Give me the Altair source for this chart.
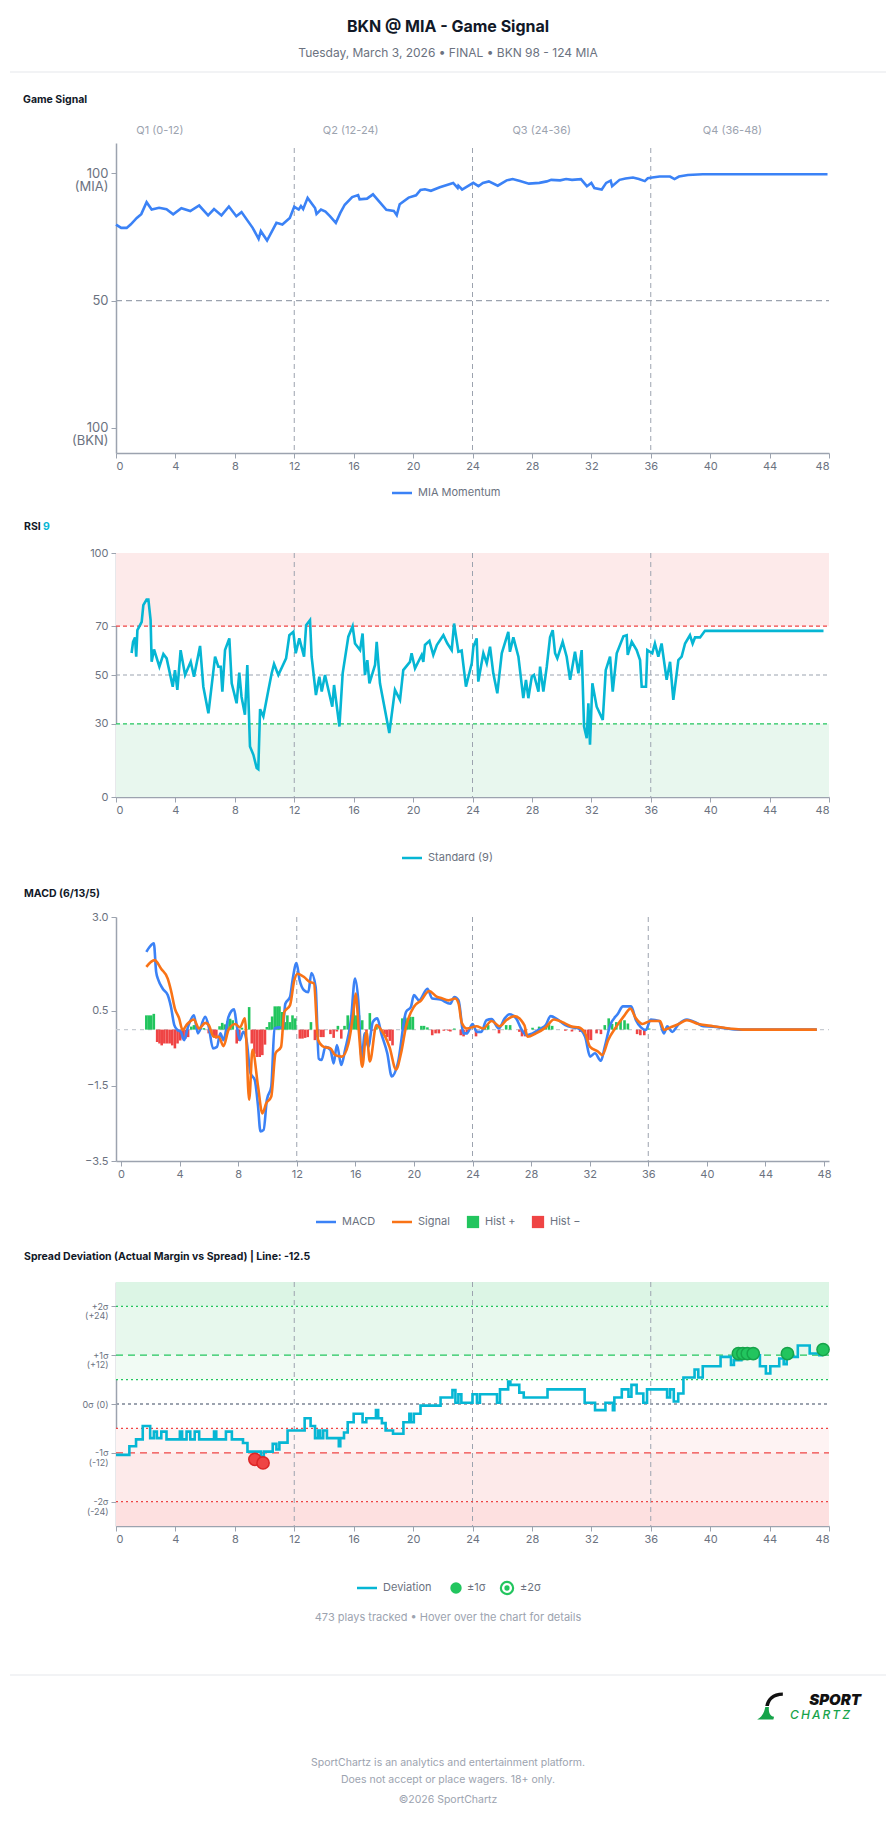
import altair as alt
import pandas as pd

# ---------------- data ----------------
# Game signal (0 = BKN control, 100 = MIA control), minute of game
gs_t = [0, 0.35, 0.72, 1.0, 1.4, 1.7, 2.06, 2.4, 2.9, 3.4, 3.85, 4.4, 5.0, 5.6, 6.2, 6.6, 7.1, 7.6,
        8.1, 8.45, 9.2, 9.6, 9.75, 10.17, 10.8, 11.2, 11.7, 12.0, 12.3, 12.45, 12.6, 12.9, 13.4, 13.5,
        13.8, 14.1, 14.4, 14.8, 15.1, 15.4, 15.9, 16.3, 16.4, 16.9, 17.3, 18.2, 18.7, 18.9, 19.1, 19.7,
        20.2, 20.5, 20.8, 21.2, 21.8, 22.7, 23.0, 23.05, 23.3, 24.05, 24.4, 24.7, 25.1, 25.7, 26.3,
        26.7, 27.2, 27.8, 28.5, 29.0, 29.3, 29.9, 30.3, 30.7, 31.3, 31.7, 32.0, 32.2, 32.7, 33.0, 33.3,
        33.4, 33.9, 34.3, 34.8, 35.2, 35.6, 35.8, 36.1, 36.6, 37.3, 37.6, 37.9, 38.5, 39.5, 47.9]
gs_v = [79.9, 78.6, 78.6, 80.0, 82.5, 84.0, 88.7, 85.8, 86.5, 85.9, 83.9, 86.3, 85.2, 87.4, 83.5, 86.0,
        83.5, 87.0, 83.2, 84.8, 78.6, 74.3, 77.3, 73.6, 80.6, 79.9, 82.5, 86.9, 85.8, 87.2, 86.0, 90.4,
        86.4, 84.1, 85.8, 85.0, 83.2, 80.6, 84.5, 87.7, 90.7, 91.5, 89.8, 90.1, 91.8, 85.7, 85.3, 83.6,
        87.9, 90.5, 91.4, 93.5, 93.8, 93.2, 94.6, 96.3, 94.3, 95.2, 93.7, 96.3, 95.0, 96.3, 96.9, 95.2,
        97.3, 97.8, 97.0, 96.0, 96.3, 96.9, 97.5, 97.3, 97.8, 97.5, 97.8, 95.0, 96.3, 94.3, 93.7, 96.3,
        97.2, 95.0, 97.5, 98.0, 98.4, 97.8, 97.0, 98.1, 98.4, 98.8, 98.8, 97.8, 98.8, 99.4, 99.7, 99.7]

# RSI (9)
rsi_t = [1.05, 1.15, 1.28, 1.36, 1.44, 1.73, 1.84, 2.06, 2.18, 2.33, 2.4, 2.56, 2.92, 3.19, 3.41, 3.82,
         3.97, 4.13, 4.35, 4.65, 5.03, 5.25, 5.66, 5.88, 6.22, 6.67, 6.89, 7.05, 7.16, 7.34, 7.63, 7.79,
         8.12, 8.3, 8.45, 8.68, 8.84, 9.02, 9.25, 9.47, 9.58, 9.7, 9.92, 10.26, 10.48, 10.64, 10.93,
         11.45, 11.67, 11.94, 12.1, 12.34, 12.66, 12.8, 13.06, 13.17, 13.46, 13.69, 13.85, 14.07, 14.56,
         14.68, 15.04, 15.26, 15.64, 15.93, 16.09, 16.43, 16.6, 16.76, 16.92, 17.06, 17.44, 17.55, 17.77,
         18.4, 18.78, 19.12, 19.34, 19.79, 19.9, 20.13, 20.58, 20.69, 20.8, 21.1, 21.36, 21.6, 22.04,
         22.3, 22.6, 22.76, 23.05, 23.27, 23.56, 23.95, 24.06, 24.28, 24.39, 24.73, 24.96, 25.18, 25.4,
         25.67, 25.97, 26.41, 26.52, 26.75, 27.09, 27.42, 27.6, 27.76, 27.99, 28.14, 28.44, 28.55, 28.77,
         29.0, 29.22, 29.4, 29.56, 29.71, 30.07, 30.34, 30.57, 30.9, 31.13, 31.35, 31.51, 31.69, 31.8,
         31.91, 32.07, 32.36, 32.77, 32.97, 33.26, 33.44, 33.71, 34.16, 34.38, 34.45, 34.72, 35.05,
         35.28, 35.39, 35.68, 35.77, 36.1, 36.28, 36.51, 36.73, 37.07, 37.3, 37.52, 37.86, 38.08, 38.31,
         38.64, 38.82, 38.98, 39.32, 39.65, 47.63]
rsi_v = [59.0, 63.6, 65.4, 57.5, 68.4, 71.8, 78.6, 80.9, 80.9, 72.5, 55.4, 60.5, 53.4, 58.6, 56.8, 45.2,
         52.0, 43.9, 60.2, 50.0, 55.4, 49.3, 61.9, 45.2, 34.3, 57.5, 53.4, 53.4, 43.2, 60.2, 65.0, 46.6,
         38.4, 51.0, 41.1, 33.7, 54.1, 20.7, 17.3, 11.9, 11.4, 36.0, 33.0, 43.9, 50.7, 54.5, 50.0, 56.8,
         66.3, 67.7, 58.9, 65.0, 57.5, 70.4, 72.5, 57.5, 41.8, 49.3, 43.2, 50.0, 37.0, 45.9, 28.9, 50.7,
         65.7, 70.0, 62.9, 60.2, 67.0, 50.0, 56.1, 46.6, 54.1, 63.6, 46.6, 26.2, 43.9, 39.8, 52.0, 55.4,
         58.9, 52.7, 58.2, 55.4, 62.3, 64.0, 58.2, 62.3, 66.3, 63.0, 60.2, 71.1, 59.5, 60.0, 45.2, 54.8,
         61.6, 65.0, 47.3, 58.9, 54.8, 61.6, 50.7, 42.5, 58.9, 67.7, 59.5, 65.4, 57.5, 40.5, 48.0, 40.5,
         49.3, 50.0, 43.2, 53.4, 43.2, 53.4, 65.4, 68.4, 58.9, 56.8, 63.6, 57.5, 48.0, 59.5, 50.7, 60.2,
         28.9, 24.1, 38.4, 21.4, 46.6, 37.0, 31.6, 52.0, 57.5, 43.2, 58.9, 65.9, 66.3, 58.2, 63.6, 60.2,
         56.1, 45.2, 45.2, 60.2, 58.9, 62.9, 57.5, 62.9, 48.0, 55.4, 39.8, 56.1, 57.5, 62.9, 66.3, 62.9,
         65.4, 65.4, 68.1, 68.1]

# MACD (6/13/5) line
macd_t = [1.73, 1.95, 2.24, 2.4, 2.56, 2.85, 3.19, 3.41, 3.64, 3.86, 4.08, 4.31, 4.58, 4.98, 5.25, 5.75,
          5.99, 6.28, 6.55, 6.78, 7.0, 7.34, 7.72, 7.9, 8.12, 8.35, 8.57, 8.84, 9.13, 9.36, 9.52, 9.74,
          9.96, 10.26, 10.48, 10.82, 11.04, 11.22, 11.54, 11.71, 11.98, 12.2, 12.5, 12.79, 13.0, 13.29,
          13.5, 13.69, 13.96, 14.3, 14.52, 14.74, 15.04, 15.3, 15.7, 15.98, 16.2, 16.43, 16.65, 16.88,
          17.2, 17.5, 17.77, 18.18, 18.49, 18.9, 19.46, 19.8, 20.0, 20.35, 20.92, 21.25, 21.81, 22.49,
          22.76, 23.05, 23.39, 23.61, 24.01, 24.28, 24.6, 24.95, 25.3, 25.8, 26.2, 26.53, 26.98, 27.31,
          27.69, 28.1, 28.66, 29.0, 29.33, 29.78, 30.34, 30.79, 31.24, 31.69, 32.03, 32.36, 32.77, 33.03,
          33.37, 33.94, 34.27, 34.83, 35.16, 35.5, 35.84, 36.17, 36.74, 37.07, 37.3, 37.63, 38.08, 38.64,
          39.3, 39.76, 40.43, 41.33, 42.24, 47.51]
macd_v = [2.07, 2.2, 2.3, 1.54, 1.31, 1.09, 0.92, 0.61, 0.12, -0.01, -0.06, -0.28, 0.08, 0.38, -0.1,
          0.34, 0.08, -0.5, -0.46, -0.1, -0.28, 0.34, 0.54, 0.12, -0.28, -0.06, -0.28, -1.16, -1.34, -2.05,
          -2.71, -2.67, -1.87, -1.52, 0.03, 0.06, 0.03, 0.69, 0.87, 1.31, 1.77, 1.31, 1.05, 1.0, 1.51, 1.14,
          -0.77, -0.81, -0.46, -0.54, -0.9, -0.41, -0.94, -0.54, 0.25, 1.36, 0.78, -0.77, -0.1, -0.46,
          0.21, 0.3, -0.1, -0.63, -1.25, -0.9, 0.47, 0.61, 0.92, 0.78, 1.09, 0.83, 0.8, 0.69, 0.87, 0.78,
          -0.1, -0.1, 0.15, -0.06, -0.06, 0.25, 0.28, 0.03, 0.3, 0.41, 0.3, 0.03, -0.15, -0.1, 0.03, 0.12,
          0.36, 0.28, 0.12, 0.06, 0.03, -0.19, -0.72, -0.63, -0.83, -0.46, 0.08, 0.43, 0.62, 0.62, 0.25,
          0.06, -0.01, 0.27, 0.23, -0.1, 0.09, -0.06, 0.15, 0.27, 0.18, 0.09, 0.08, 0.03, 0.0, 0.0]

# MACD signal line
sig_t = [1.73, 2.29, 2.74, 3.19, 3.41, 3.68, 3.97, 4.2, 4.53, 4.98, 5.32, 5.77, 5.99, 6.33, 6.67, 7.0,
         7.34, 7.79, 8.12, 8.46, 8.75, 8.98, 9.36, 9.65, 9.92, 10.26, 10.55, 10.93, 11.15, 11.54, 11.83,
         12.05, 12.5, 12.88, 13.17, 13.46, 13.85, 14.3, 14.63, 15.08, 15.53, 15.87, 16.02, 16.25, 16.47,
         16.76, 16.99, 17.44, 17.77, 18.33, 18.78, 19.12, 19.46, 20.0, 20.5, 21.03, 21.6, 21.81, 22.37,
         22.82, 23.05, 23.27, 23.61, 24.28, 24.73, 25.3, 25.86, 26.3, 26.86, 27.54, 27.76, 28.33, 29.0,
         29.56, 30.34, 30.79, 31.24, 31.69, 32.03, 32.59, 32.86, 33.26, 33.82, 34.38, 34.78, 35.16,
         35.61, 36.17, 36.8, 37.07, 37.52, 38.08, 38.64, 39.42, 40.43, 41.55, 42.46, 47.51]
sig_v = [1.67, 1.85, 1.62, 1.36, 1.05, 0.56, 0.3, -0.01, 0.15, 0.27, 0.03, 0.18, 0.12, -0.19, -0.19,
         -0.44, -0.01, 0.15, 0.06, 0.3, -1.87, -0.54, -1.52, -2.23, -1.96, -1.78, -0.63, -0.46, 0.47, 0.65,
         1.31, 1.49, 1.4, 1.27, 1.23, -0.28, -0.46, -0.5, -0.68, -0.72, -0.37, 0.47, 0.96, -0.1, -0.99,
         -0.06, -0.85, 0.12, -0.01, -0.46, -1.06, -0.63, 0.08, 0.61, 0.78, 1.03, 0.87, 0.85, 0.78, 0.83,
         0.69, 0.18, 0.03, 0.09, 0.03, 0.23, 0.09, 0.25, 0.36, 0.12, -0.19, -0.1, 0.06, 0.27, 0.16, 0.08,
         0.06, -0.1, -0.46, -0.59, -0.68, -0.28, 0.08, 0.38, 0.56, 0.3, 0.15, 0.23, 0.23, -0.01, 0.06,
         0.15, 0.25, 0.15, 0.09, 0.03, 0.0, 0.0]

# MACD histogram
hist_t = [1.73, 1.89, 2.06, 2.24, 2.47, 2.63, 2.78, 2.96, 3.14, 3.32, 3.5, 3.68, 3.86, 4.04, 4.22, 4.4,
          4.58, 4.8, 4.98, 5.16, 5.43, 5.66, 5.99, 6.15, 6.33, 6.51, 6.73, 6.91, 7.09, 7.27, 7.45, 7.63,
          7.9, 8.08, 8.26, 8.75, 8.93, 9.11, 9.29, 9.47, 9.65, 9.83, 9.96, 10.14, 10.32, 10.5, 10.68,
          10.82, 11.0, 11.18, 11.36, 11.54, 11.71, 11.89, 12.21, 12.39, 12.57, 12.75, 12.97, 13.24, 13.42,
          13.64, 13.82, 14.3, 14.52, 14.74, 14.81, 15.04, 15.26, 15.48, 15.71, 15.89, 16.07, 16.25, 16.47,
          16.76, 16.99, 17.15, 17.44, 17.77, 18.0, 18.18, 18.36, 18.54, 19.21, 19.39, 19.57, 19.75, 19.93,
          20.51, 20.69, 20.92, 21.25, 21.48, 21.7, 22.04, 22.37, 22.49, 22.76, 23.2, 23.39, 23.61, 24.24,
          24.84, 25.07, 25.81, 26.3, 26.57, 27.2, 27.38, 27.6, 28.1, 28.55, 29.0, 29.22, 29.44, 30.34,
          30.79, 31.35, 31.69, 31.91, 32.09, 32.47, 32.77, 33.03, 33.3, 33.53, 33.82, 34.11, 34.38, 34.61,
          35.24, 35.46, 35.73, 36.06]
hist_v = [0.38, 0.38, 0.38, 0.42, -0.33, -0.37, -0.42, -0.37, -0.37, -0.37, -0.42, -0.5, -0.37, -0.29,
          -0.24, -0.24, -0.2, 0.08, 0.12, 0.1, 0.06, 0.04, -0.1, -0.15, -0.2, -0.24, 0.09, 0.18, 0.14, 0.22,
          0.29, 0.25, -0.37, -0.3, 0.05, 0.6, -0.37, -0.64, -0.73, -0.73, -0.68, -0.4, 0.07, 0.2, 0.35,
          0.62, 0.62, 0.62, 0.47, 0.2, 0.38, 0.2, 0.38, 0.3, -0.24, -0.24, -0.22, -0.2, 0.2, -0.28, -0.2,
          -0.2, -0.2, -0.12, -0.22, -0.05, 0.1, -0.24, 0.1, 0.38, 0.38, 0.69, 0.38, 0.38, 0.25, -0.06, 0.44,
          -0.03, 0.1, -0.06, -0.12, -0.2, -0.3, -0.42, 0.3, 0.34, 0.3, 0.34, 0.34, 0.1, 0.1, 0.06, -0.15,
          -0.1, -0.1, -0.03, -0.03, -0.05, 0.03, -0.15, -0.18, -0.12, -0.18, 0.1, 0.12, -0.1, 0.12, 0.12,
          -0.06, -0.18, -0.18, 0.05, 0.08, 0.1, 0.14, 0.1, -0.03, -0.05, -0.06, -0.1, -0.28, -0.28, -0.1,
          -0.12, 0.12, 0.3, 0.15, 0.2, 0.25, 0.25, 0.16, -0.12, -0.15, -0.15, 0.03]

# Spread deviation (actual margin minus spread), stepped per play
dev_t = [0, 0.9, 1.35, 1.8, 2.3, 2.55, 2.75, 3.05, 3.4, 4.3, 4.45, 4.75, 5.0, 5.3, 5.6, 6.6, 6.75, 7.4,
         7.8, 8.55, 8.85, 9.75, 9.95, 10.55, 10.8, 11.0, 11.55, 12.7, 13.1, 13.4, 13.6, 13.75, 13.95,
         14.2, 15.0, 15.1, 15.35, 15.6, 16.0, 16.6, 16.85, 17.5, 17.65, 17.9, 18.15, 18.65, 19.35, 19.75,
         19.85, 20.05, 20.5, 21.85, 22.65, 22.85, 23.05, 23.25, 24.0, 24.3, 24.5, 25.65, 25.85, 26.4,
         26.55, 27.15, 27.45, 29.05, 31.55, 32.25, 32.95, 33.45, 33.55, 34.05, 34.5, 34.7, 35.05, 35.5,
         35.75, 37.1, 37.3, 37.55, 37.85, 38.2, 38.95, 39.2, 39.5, 40.7, 41.4, 41.6, 42.1, 42.6, 42.9,
         43.35, 43.75, 44.05, 44.65, 44.95, 45.15, 45.9, 46.7, 47.35, 47.5, 47.6]
dev_v = [-12.5, -10.4, -8.7, -5.4, -8.4, -6.8, -8.4, -6.8, -8.7, -6.8, -8.7, -6.8, -8.7, -6.8, -8.7,
         -6.8, -8.7, -6.8, -8.7, -9.6, -11.7, -12.9, -11.7, -9.8, -11.2, -9.5, -6.5, -3.5, -5.4, -8.4,
         -6.5, -8.4, -6.5, -8.4, -10.4, -8.4, -7.0, -4.5, -2.4, -4.5, -3.5, -1.5, -3.5, -4.7, -6.5, -7.3,
         -4.5, -2.4, -4.5, -2.4, -0.4, 1.6, 3.4, 0.3, 2.4, 0.3, 2.4, 0.3, 2.4, 0.3, 3.6, 5.5, 4.7, 2.8,
         1.6, 3.6, 0.3, -1.5, 0.3, -1.5, 1.6, 3.6, 1.8, 4.7, 2.6, 0.3, 3.6, 1.6, 3.6, 0.6, 2.6, 6.5, 8.5,
         6.5, 9.3, 11.6, 9.6, 10.8, 12.0, 11.3, 12.0, 9.3, 7.5, 9.3, 11.2, 9.8, 11.6, 14.4, 12.4, 12.0,
         13.4, 13.4]

# Plays beyond one standard deviation
hit_t = [9.35, 9.9, 41.9, 42.2, 42.5, 42.9, 45.2, 47.6]
hit_v = [-13.6, -14.5, 12.4, 12.4, 12.4, 12.4, 12.4, 13.4]

quarter_lines = [12, 24, 36]
quarter_names = ["Q1 (0-12)", "Q2 (12-24)", "Q3 (24-36)", "Q4 (36-48)"]
quarter_label_t = [2.96, 15.8, 28.66, 41.5]

# ---------------- style ----------------
FONT = "Inter"
INK = "#111827"
MUTED = "#6b7280"
LIGHT = "#9ca3af"
AXIS = "#9ca3af"
BLUE = "#3b82f6"
CYAN = "#06b6d4"
ORANGE = "#f97316"
GREEN = "#22c55e"
RED = "#ef4444"
W = 713          # plot width
LEFT = 116       # plot left edge within the page
PAGE_W = 896

X_SCALE = alt.Scale(domain=[0, 48], nice=False, zero=False)
X_AXIS = alt.Axis(values=list(range(0, 49, 4)), title=None, grid=False, labelFontSize=11,
                  labelColor=MUTED, tickSize=5, labelPadding=2, domainColor=AXIS, tickColor=AXIS,
                  domainWidth=1.5, labelFont=FONT)


def X(field):
    return alt.X(field, type="quantitative", scale=X_SCALE, axis=X_AXIS)


def one():
    return pd.DataFrame({"k": [0]})


def spacer(top, bottom):
    # invisible box fixing the outer extent of a panel
    return alt.Chart(one()).mark_rect(opacity=0).encode(
        x=alt.value(-LEFT), x2=alt.value(PAGE_W - LEFT), y=alt.value(-top), y2=alt.value(bottom))


def text(s, x, y, size=11, color=INK, weight="normal", align="left", style="normal"):
    return alt.Chart(pd.DataFrame({"s": [s]})).mark_text(
        align=align, baseline="middle", fontSize=size, color=color, fontWeight=weight,
        font=FONT, fontStyle=style).encode(x=alt.value(x), y=alt.value(y), text="s:N")


def hline(x1, x2, y, color, width=2.5, dash=None):
    kw = {"strokeDash": dash} if dash else {}
    return alt.Chart(one()).mark_rule(color=color, strokeWidth=width, **kw).encode(
        x=alt.value(x1), x2=alt.value(x2), y=alt.value(y))


def legend_line(x1, y, color, label):
    return hline(x1, x1 + 20, y, color) + text(label, x1 + 26, y, 11, MUTED)


def legend_square(cx, y, color, label):
    sq = alt.Chart(one()).mark_point(shape="square", filled=True, color=color, size=150, opacity=1).encode(
        x=alt.value(cx), y=alt.value(y))
    return sq + text(label, cx + 12, y, 11, MUTED)


def quarter_rules(Y, y_top=0, height=244):
    df = pd.DataFrame({"q": quarter_lines})
    return alt.Chart(df).mark_rule(color=LIGHT, strokeWidth=1, strokeDash=[5, 4]).encode(
        x=X("q"), y=alt.value(y_top), y2=alt.value(height))


def level(values, color, dash, Y, width=1.2):
    df = pd.DataFrame({"v": values})
    return alt.Chart(df).mark_rule(color=color, strokeWidth=width, strokeDash=dash).encode(
        y=alt.Y("v:Q", scale=Y["scale"], axis=Y["axis"]), x=alt.value(0), x2=alt.value(W))


def band(lo, hi, color, Y, opacity=1.0):
    df = pd.DataFrame({"lo": [lo], "hi": [hi]})
    return alt.Chart(df).mark_rect(color=color, opacity=opacity).encode(
        y=alt.Y("lo:Q", scale=Y["scale"], axis=Y["axis"]), y2="hi:Q",
        x=alt.value(0), x2=alt.value(W))


def yaxis(values, **kw):
    base = dict(values=values, title=None, grid=False, tickSize=5, labelPadding=3,
                labelColor=MUTED, domainColor=AXIS, tickColor=AXIS, domainWidth=1.5, labelFont=FONT)
    base.update(kw)
    return alt.Axis(**base)


# ---------------- panel 1: game signal ----------------
H1 = 310
Y1 = {"scale": alt.Scale(domain=[-10, 112], nice=False, zero=False),
      "axis": yaxis([0, 50, 100], labelFontSize=13, labelLineHeight=13,
                    labelExpr="datum.value == 100 ? ['100', '(MIA)'] : datum.value == 0 ? ['100', '(BKN)'] : '50'")}

gs = pd.DataFrame({"t": gs_t, "v": gs_v})
qlab = pd.DataFrame({"t": quarter_label_t, "s": quarter_names})

p1 = alt.layer(
    spacer(143, 362),
    text("BKN @ MIA - Game Signal", 332, -116, 16, INK, "bold", "center"),
    text("Tuesday, March 3, 2026 \u2022 FINAL \u2022 BKN 98 - 124 MIA", 332, -90, 12, MUTED, "normal", "center"),
    hline(-106, 770, -71, "#e5e7eb", 1),
    text("Game Signal", -93, -43, 10.5, INK, "bold"),
    alt.Chart(qlab).mark_text(fontSize=11, color=LIGHT, font=FONT, baseline="middle").encode(
        x=X("t"), y=alt.value(-12), text="s:N"),
    quarter_rules(Y1, 5, H1),
    level([50], LIGHT, [6, 4], Y1, 1.2),
    alt.Chart(gs).mark_line(color=BLUE, strokeWidth=2.6).encode(
        x=X("t"), y=alt.Y("v:Q", scale=Y1["scale"], axis=Y1["axis"])),
    legend_line(276, 350, BLUE, "MIA Momentum"),
).properties(width=W, height=H1)

# ---------------- panel 2: RSI ----------------
H2 = 244
Y2 = {"scale": alt.Scale(domain=[0, 100], nice=False),
      "axis": yaxis([0, 30, 50, 70, 100], labelFontSize=11)}
rsi = pd.DataFrame({"t": rsi_t, "v": rsi_v})

p2 = alt.layer(
    spacer(48, 327),
    text("RSI", -92, -26, 10.5, INK, "bold"),
    text("9", -73, -26, 10.5, CYAN, "bold"),
    band(70, 100, "#fdeaea", Y2),
    band(0, 30, "#e8f7ee", Y2),
    quarter_rules(Y2, 0, H2),
    level([70], RED, [4, 3], Y2, 1.2),
    level([30], GREEN, [4, 3], Y2, 1.2),
    level([50], LIGHT, [4, 3], Y2, 1.2),
    alt.Chart(rsi).mark_line(color=CYAN, strokeWidth=2.6).encode(
        x=X("t"), y=alt.Y("v:Q", scale=Y2["scale"], axis=Y2["axis"])),
    legend_line(286, 305, CYAN, "Standard (9)"),
).properties(width=W, height=H2)

# ---------------- panel 3: MACD ----------------
H3 = 244
Y3 = {"scale": alt.Scale(domain=[-3.5, 3.0], nice=False, zero=False),
      "axis": yaxis([3.0, 0.5, -1.5, -3.5], labelFontSize=11, format=".1f")}
macd = pd.DataFrame({"t": macd_t, "v": macd_v})
sig = pd.DataFrame({"t": sig_t, "v": sig_v})
hist = pd.DataFrame({"t": hist_t, "h": hist_v})
hist["side"] = ["pos" if h >= 0 else "neg" for h in hist["h"]]

p3 = alt.layer(
    spacer(37, 328),
    text("MACD (6/13/5)", -92, -23, 10.5, INK, "bold"),
    quarter_rules(Y3, 0, H3),
    level([0], "#c7cbd1", [4, 4], Y3, 1.2),
    alt.Chart(hist).mark_bar(size=2.6).encode(
        x=X("t"), y=alt.Y("h:Q", scale=Y3["scale"], axis=Y3["axis"]), y2=alt.datum(0),
        color=alt.Color("side:N", scale=alt.Scale(domain=["pos", "neg"], range=[GREEN, RED]), legend=None)),
    alt.Chart(macd).mark_line(color=BLUE, strokeWidth=2.6, interpolate="monotone").encode(
        x=X("t"), y=alt.Y("v:Q", scale=Y3["scale"], axis=Y3["axis"])),
    alt.Chart(sig).mark_line(color=ORANGE, strokeWidth=2.6, interpolate="monotone").encode(
        x=X("t"), y=alt.Y("v:Q", scale=Y3["scale"], axis=Y3["axis"])),
    legend_line(200, 305, BLUE, "MACD"),
    legend_line(276, 305, ORANGE, "Signal"),
    legend_square(357, 305, GREEN, "Hist +"),
    legend_square(422, 305, RED, "Hist \u2212"),
).properties(width=W, height=H3)

# ---------------- panel 4: spread deviation ----------------
H4 = 244
Y4 = {"scale": alt.Scale(domain=[-30, 30], nice=False, zero=False),
      "axis": yaxis([-24, -12, 0, 12, 24], labelFontSize=9, labelLineHeight=9.5,
                    labelExpr="datum.value == 24 ? ['+2\u03c3', '(+24)'] : datum.value == 12 ? ['+1\u03c3', '(+12)'] : "
                              "datum.value == 0 ? '0\u03c3 (0)' : datum.value == -12 ? ['-1\u03c3', '(-12)'] : ['-2\u03c3', '(-24)']")}
dev = pd.DataFrame({"t": dev_t, "v": dev_v})
hits = pd.DataFrame({"t": hit_t, "v": hit_v})
hits["side"] = ["up" if v > 0 else "down" for v in hits["v"]]

ring = alt.Chart(one()).mark_point(shape="circle", filled=False, color=GREEN, strokeWidth=2.2,
                                   size=150, opacity=1).encode(x=alt.value(391), y=alt.value(306))
ring_dot = alt.Chart(one()).mark_point(shape="circle", filled=True, color=GREEN, size=28,
                                       opacity=1).encode(x=alt.value(391), y=alt.value(306))
dot1 = alt.Chart(one()).mark_point(shape="circle", filled=True, color=GREEN, size=130,
                                   opacity=1).encode(x=alt.value(340), y=alt.value(306))

# brand mark: two-tone swoosh beside the wordmark
swoosh_black = alt.Chart(one()).mark_point(
    shape="M0.95,-1 C0.15,-1 -0.25,-0.55 -0.35,0.0 L-0.08,0.0 C0.02,-0.45 0.3,-0.72 0.95,-0.75 Z",
    filled=True, color="#111111", size=730, opacity=1).encode(x=alt.value(654), y=alt.value(424))
swoosh_green = alt.Chart(one()).mark_point(
    shape="M-0.35,0.08 L-0.08,0.08 C-0.12,0.5 0.0,0.75 0.3,0.8 L0.25,1 L-0.95,1 C-0.6,0.8 -0.42,0.5 -0.35,0.08 Z",
    filled=True, color="#16a34a", size=730, opacity=1).encode(x=alt.value(654), y=alt.value(424))

p4 = alt.layer(
    spacer(37, 542),
    text("Spread Deviation (Actual Margin vs Spread) | Line: -12.5", -92, -25, 10.5, INK, "bold"),
    band(24, 30, "#dcf5e5", Y4),
    band(12, 24, "#e7f8ed", Y4),
    band(6, 12, "#f1fbf4", Y4),
    band(-12, -6, "#fef3f3", Y4),
    band(-24, -12, "#fdeaea", Y4),
    band(-30, -24, "#fde0e0", Y4),
    quarter_rules(Y4, 0, H4),
    level([24, 6], GREEN, [2, 3], Y4, 1.2),
    level([12], GREEN, [7, 5], Y4, 1.2),
    level([0], LIGHT, [3, 3], Y4, 1.8),
    level([-6, -24], RED, [2, 3], Y4, 1.2),
    level([-12], RED, [7, 5], Y4, 1.2),
    alt.Chart(dev).mark_line(color=CYAN, strokeWidth=2.6, interpolate="step-after").encode(
        x=X("t"), y=alt.Y("v:Q", scale=Y4["scale"], axis=Y4["axis"])),
    alt.Chart(hits).mark_point(filled=True, size=150, opacity=1, strokeWidth=1.5).encode(
        x=X("t"), y=alt.Y("v:Q", scale=Y4["scale"], axis=Y4["axis"]),
        fill=alt.Fill("side:N", scale=alt.Scale(domain=["up", "down"], range=[GREEN, RED]), legend=None),
        stroke=alt.Stroke("side:N", scale=alt.Scale(domain=["up", "down"], range=["#16a34a", "#dc2626"]), legend=None)),
    legend_line(241, 306, CYAN, "Deviation"),
    dot1, text("\u00b11\u03c3", 351, 306, 11, MUTED),
    ring, ring_dot, text("\u00b12\u03c3", 404, 306, 11, MUTED),
    text("473 plays tracked \u2022 Hover over the chart for details", 332, 336, 11, LIGHT, "normal", "center"),
    hline(-106, 770, 393, "#e5e7eb", 1),
    swoosh_black, swoosh_green,
    text("SPORT", 745, 418, 15, "#111111", 900, "right", "italic"),
    text("C\u2009H\u2009A\u2009R\u2009T\u2009Z", 734, 433, 12, "#16a34a", 500, "right", "italic"),
    text("SportChartz is an analytics and entertainment platform.", 332, 481, 10.5, LIGHT, "normal", "center"),
    text("Does not accept or place wagers. 18+ only.", 332, 498, 10.5, LIGHT, "normal", "center"),
    text("\u00a92026 SportChartz", 332, 518, 10.5, LIGHT, "normal", "center"),
).properties(width=W, height=H4)

chart = alt.vconcat(p1, p2, p3, p4, spacing=0).resolve_scale(
    color="independent", fill="independent", stroke="independent"
).properties(padding=0, background="white").configure_view(stroke=None)

chart.save("out.html", embed_options={"renderer": "svg", "actions": False})
